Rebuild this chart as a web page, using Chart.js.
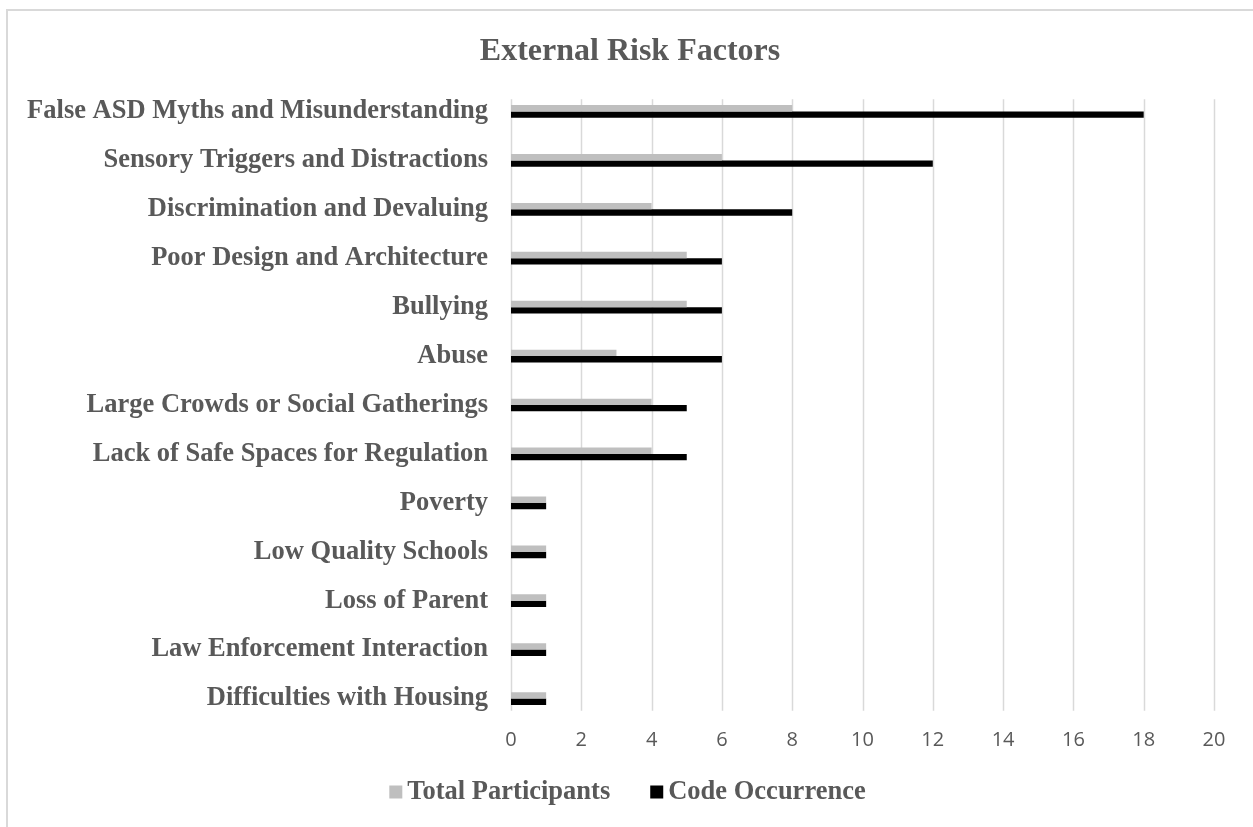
<!DOCTYPE html>
<html>
<head>
<meta charset="utf-8">
<title>External Risk Factors</title>
<script src="https://cdn.jsdelivr.net/npm/chart.js@4/dist/chart.umd.min.js"></script>
<style>
  html, body { margin: 0; padding: 0; background: #fff; overflow: hidden; }
  #frame {
    position: absolute; left: 6px; top: 9px;
    width: 1300px; height: 900px;
    border: 2px solid #d9d9d9;
  }
  #wrap { position: absolute; left: 0; top: 0; width: 1253px; height: 827px; }
</style>
</head>
<body>
<div id="frame"></div>
<div id="wrap"><canvas id="chart"></canvas></div>
<script>
const categories = [
  'False ASD Myths and Misunderstanding',
  'Sensory Triggers and Distractions',
  'Discrimination and Devaluing',
  'Poor Design and Architecture',
  'Bullying',
  'Abuse',
  'Large Crowds or Social Gatherings',
  'Lack of Safe Spaces for Regulation',
  'Poverty',
  'Low Quality Schools',
  'Loss of Parent',
  'Law Enforcement Interaction',
  'Difficulties with Housing'
];
const totalParticipants = [8, 6, 4, 5, 5, 3, 4, 4, 1, 1, 1, 1, 1];
const codeOccurrence = [18, 12, 8, 6, 6, 6, 5, 5, 1, 1, 1, 1, 1];
const xMax = 20;
const xStep = 2;
const chartTitle = 'External Risk Factors';

const labelColor = '#595959';
const serif = "'Liberation Serif', 'Times New Roman', serif";

// vertical grid lines, a little shorter than the plot area
const insetGrid = {
  id: 'insetGrid',
  beforeDatasetsDraw(chart) {
    const { ctx, chartArea, scales } = chart;
    const inset = 12.3;
    ctx.save();
    ctx.strokeStyle = '#d9d9d9';
    ctx.lineWidth = 1.5;
    scales.x.ticks.forEach(t => {
      const x = Math.round(scales.x.getPixelForValue(t.value)) + 0.5;
      ctx.beginPath();
      ctx.moveTo(x, chartArea.top + inset);
      ctx.lineTo(x, chartArea.bottom - inset);
      ctx.stroke();
    });
    ctx.restore();
  }
};

// title on top and legend under the axis (square, tight gap, label)
const titleAndLegend = {
  id: 'titleAndLegend',
  afterDraw(chart) {
    const { ctx } = chart;
    ctx.save();
    ctx.textBaseline = 'middle';
    ctx.fillStyle = labelColor;
    ctx.textAlign = 'center';
    ctx.font = 'bold 32px ' + serif;
    ctx.fillText(chartTitle, 630, 52);

    ctx.textAlign = 'left';
    const box = 13, gap = 5, spacing = 40, cy = 792;
    ctx.font = 'bold 26.5px ' + serif;
    const items = chart.data.datasets.map(ds => ({
      text: ds.label, color: ds.backgroundColor, w: ctx.measureText(ds.label).width
    }));
    const total = items.reduce((s, it) => s + box + gap + it.w, 0) + spacing * (items.length - 1);
    let x = 627.5 - total / 2;
    items.forEach(it => {
      ctx.fillStyle = it.color;
      ctx.fillRect(x, cy - box / 2, box, box);
      x += box + gap;
      ctx.fillStyle = labelColor;
      ctx.fillText(it.text, x, cy);
      x += it.w + spacing;
    });
    ctx.restore();
  }
};

new Chart(document.getElementById('chart'), {
  type: 'bar',
  data: {
    labels: categories,
    datasets: [
      {
        label: 'Total Participants',
        data: totalParticipants,
        backgroundColor: '#bfbfbf',
        borderWidth: 0
      },
      {
        label: 'Code Occurrence',
        data: codeOccurrence,
        backgroundColor: '#000000',
        borderWidth: 0
      }
    ]
  },
  options: {
    indexAxis: 'y',
    responsive: true,
    maintainAspectRatio: false,
    animation: false,
    categoryPercentage: 0.26,
    barPercentage: 1.0,
    layout: { padding: { top: 87, left: 0, right: 39, bottom: 70 } },
    plugins: {
      legend: { display: false },
      tooltip: { enabled: false },
      title: { display: false }
    },
    scales: {
      x: {
        min: 0,
        max: xMax,
        ticks: {
          stepSize: xStep,
          color: labelColor,
          padding: 5,
          font: { family: "'Open Sans', sans-serif", size: 20 }
        },
        grid: { display: false, drawTicks: false },
        border: { display: false }
      },
      y: {
        ticks: {
          color: labelColor,
          padding: 23,
          font: { family: serif, size: 26.5, weight: 'bold' }
        },
        grid: { display: false, drawTicks: false },
        border: { display: false },
        afterFit(scale) { scale.width = 511; }
      }
    }
  },
  plugins: [insetGrid, titleAndLegend]
});
</script>
</body>
</html>
